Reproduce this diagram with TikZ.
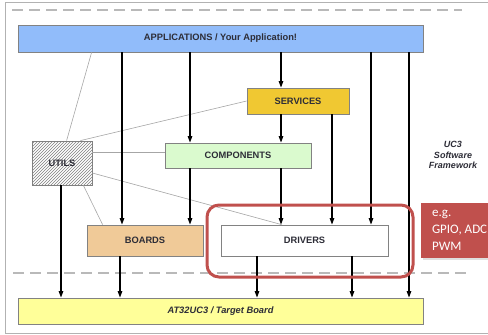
\documentclass[tikz,border=0pt]{standalone}
\usepackage{fontspec}
\setmainfont{Liberation Sans}
\newfontfamily\carlito{Carlito}
\usetikzlibrary{arrows.meta, positioning, shadows, calc, patterns}

\definecolor{appblue}{RGB}{145,188,250}
\definecolor{srvgold}{RGB}{240,200,50}
\definecolor{cmpgreen}{RGB}{218,250,206}
\definecolor{brdtan}{RGB}{240,202,152}
\definecolor{tgtyellow}{RGB}{255,255,153}
\definecolor{egred}{RGB}{192,80,77}
\definecolor{boxline}{RGB}{130,130,130}
\definecolor{txtgray}{RGB}{45,45,55}

\tikzset{
  layer/.style={draw=boxline, line width=0.8pt, inner sep=0pt, text=txtgray,
    font=\fontsize{9.3}{11}\selectfont\bfseries},
  arr/.style={-{Triangle[length=6.5pt,width=4.5pt]}, line width=1.1pt},
  link/.style={draw=gray!70, line width=0.6pt},
  sep/.style={gray!55, line width=1.2pt, dash pattern=on 11pt off 6pt}
}

\begin{document}
\begin{tikzpicture}[x=1pt,y=-1pt]
    \useasboundingbox (0,0) rectangle (488,335);
    \clip (0,0) rectangle (488,335);
    \draw[gray!60, line width=1pt] (5,2) rectangle (510,333);
    
    % separators
    \draw[sep] (12,10) -- (462,10);
    \draw[sep] (13,273) -- (470,273);
    
    % layers
    \node[layer, fill=appblue, minimum width=405pt, minimum height=27pt] (apps) at (220.5,38.5) {APPLICATIONS / Your Application!};
    \node[layer, fill=srvgold, minimum width=102pt, minimum height=26pt] (services) at (298,101) {SERVICES};
    \node[layer, fill=cmpgreen, minimum width=146pt, minimum height=25pt] (components) at (238,155.5) {COMPONENTS};
    \node[layer, fill=white, minimum width=60pt, minimum height=44pt,
      postaction={pattern=north east lines, pattern color=gray}] (utils) at (62,163) {};
    \node[text=txtgray, font=\fontsize{9.3}{11}\selectfont\bfseries] (utilstext) at (utils) {UTILS};
    \node[layer, fill=brdtan, minimum width=116pt, minimum height=31pt] (boards) at (145,240.5) {BOARDS};
    \node[layer, fill=white, minimum width=167pt, minimum height=31pt] (drivers) at (304.5,240.5) {DRIVERS};
    \node[layer, fill=tgtyellow, minimum width=405pt, minimum height=26pt,
      font=\fontsize{9.3}{11}\selectfont\bfseries\itshape] (target) at (220.5,311) {AT32UC3 / Target Board};
    
    \node[align=center, text=txtgray, font=\fontsize{9}{10.5}\selectfont\bfseries\itshape] (uc3) at (453,155) {UC3\\Software\\Framework};
    
    % thin links
    \draw[link] ($(apps.south west)+(74,0)$) -- ($(utils.north west)+(35,0)$);
    \draw[link] (services.west) -- ($(utils.north east)+(-12,0)$);
    \draw[link] ($(utils.east)+(0,-11)$) -- ($(components.west)+(0,-3.5)$);
    \draw[link] ($(utils.south east)+(-9,0)$) -- ($(boards.north west)+(16,0)$);
    \draw[link] ($(utils.east)+(0,10)$) -- ($(drivers.north west)+(61,0)$);
    
    % calls between layers
    \foreach \x/\a/\b in {122/apps/boards, 190/apps/components, 190/components/boards,
      281/apps/services, 281/services/components, 281/components/drivers,
      332/services/drivers, 371/apps/drivers, 409/apps/target,
      61/utils/target, 120/boards/target, 257/drivers/target, 352/drivers/target}{
      \coordinate (col) at (\x,0);
      \draw[arr] (col |- \a.south) -- (col |- \b.north);
    }
    
    % highlight
    \draw[egred, line width=3pt, rounded corners=12pt] (207,205) rectangle (413,277);
    \node[fill=egred, anchor=north west, minimum width=80pt, minimum height=55pt,
      inner xsep=6pt, inner ysep=5pt, align=left, text=white,
      drop shadow={shadow xshift=1.5pt, shadow yshift=-1.5pt, opacity=0.25},
      font=\carlito\fontsize{13}{17}\selectfont] (eg) at (421,203) {e.g.\\GPIO, ADC,\\PWM};
\end{tikzpicture}
\end{document}
